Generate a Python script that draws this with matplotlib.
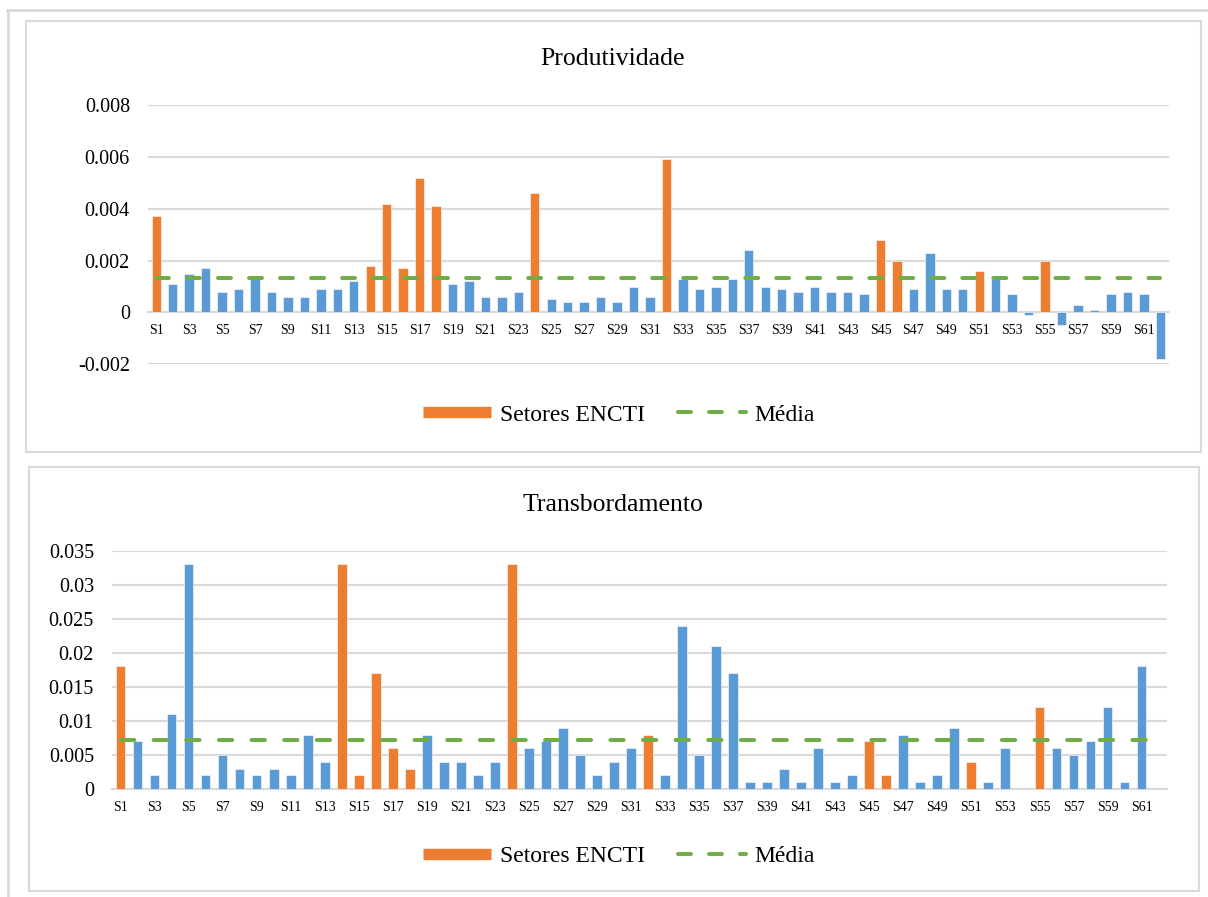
import numpy as np
import matplotlib
matplotlib.use("Agg")
import matplotlib.pyplot as plt
from matplotlib.lines import Line2D
from matplotlib.patches import Rectangle

plt.rcParams['font.family'] = ['Liberation Serif', 'DejaVu Serif']

# dados
setores = [f"S{i}" for i in range(1, 63)]
setores_encti = [1, 14, 15, 16, 17, 18, 24, 32, 45, 46, 51, 55]

produtividade = [0.0037, 0.0011, 0.0015, 0.0017, 0.0008, 0.0009, 0.0014, 0.0008, 0.0006, 0.0006,
                 0.0009, 0.0009, 0.0012, 0.0018, 0.0042, 0.0017, 0.0052, 0.0041, 0.0011, 0.0012,
                 0.0006, 0.0006, 0.0008, 0.0046, 0.0005, 0.0004, 0.0004, 0.0006, 0.0004, 0.0010,
                 0.0006, 0.0059, 0.0013, 0.0009, 0.0010, 0.0013, 0.0024, 0.0010, 0.0009, 0.0008,
                 0.0010, 0.0008, 0.0008, 0.0007, 0.0028, 0.0020, 0.0009, 0.0023, 0.0009, 0.0009,
                 0.0016, 0.0013, 0.0007, -0.0001, 0.0020, -0.0005, 0.0003, 0.0001, 0.0007, 0.0008,
                 0.0007, -0.0018]
media_prod = 0.00132

transbordamento = [0.018, 0.007, 0.002, 0.011, 0.033, 0.002, 0.005, 0.003, 0.002, 0.003,
                   0.002, 0.008, 0.004, 0.033, 0.002, 0.017, 0.006, 0.003, 0.008, 0.004,
                   0.004, 0.002, 0.004, 0.033, 0.006, 0.007, 0.009, 0.005, 0.002, 0.004,
                   0.006, 0.008, 0.002, 0.024, 0.005, 0.021, 0.017, 0.001, 0.001, 0.003,
                   0.001, 0.006, 0.001, 0.002, 0.007, 0.002, 0.008, 0.001, 0.002, 0.009,
                   0.004, 0.001, 0.006, 0.0, 0.012, 0.006, 0.005, 0.007, 0.012, 0.001,
                   0.018, 0.0]
media_transb = 0.0072

laranja = '#ED7D31'
azul = '#5B9BD5'
verde = '#70AD47'
cinza = '#D9D9D9'

W, H = 1208, 897
fig = plt.figure(figsize=(W / 100, H / 100), dpi=100)

def px(x0, y0, x1, y1):
    # converte pixels (origem em cima) para [l, b, w, h]
    return [x0 / W, 1 - y1 / H, (x1 - x0) / W, (y1 - y0) / H]

cores = [laranja if i + 1 in setores_encti else azul for i in range(len(setores))]
x = np.arange(len(setores))


def painel(ax, valores, media, ylim, yticks, ylabels, dashes):
    ax.bar(x, valores, width=0.57, color=cores, edgecolor='white', linewidth=0.4, zorder=3)
    ax.plot(x, [media] * len(x), color=verde, lw=2.9, dashes=dashes,
            dash_capstyle='round', zorder=4)
    ax.set_xlim(-0.5, len(x) - 0.5)
    ax.set_ylim(*ylim)
    ax.set_yticks(yticks)
    ax.set_yticklabels(ylabels, fontsize=14.5)
    ax.set_xticks(x[::2])
    ax.set_xticklabels(setores[::2], fontsize=11.2)
    ax.tick_params(length=0)
    ax.tick_params(axis='y', pad=13)
    ax.tick_params(axis='x', pad=8.5)
    ax.grid(axis='y', color=cinza, lw=1.5, zorder=0)
    for s in ['top', 'right', 'left']:
        ax.spines[s].set_visible(False)
    ax.spines['bottom'].set_position(('data', 0))
    ax.spines['bottom'].set_color(cinza)
    ax.spines['bottom'].set_linewidth(1.5)
    ax.set_facecolor('none')


ax1 = fig.add_axes(px(148, 105, 1168.5, 364.3))
painel(ax1, produtividade, media_prod, (-0.002, 0.008),
       [-0.002, 0, 0.002, 0.004, 0.006, 0.008],
       ['-0.002', '0', '0.002', '0.004', '0.006', '0.008'], [3.2, 4.5])

ax2 = fig.add_axes(px(112, 550.7, 1167, 789))
painel(ax2, transbordamento, media_transb, (0, 0.035),
       [0, 0.005, 0.01, 0.015, 0.02, 0.025, 0.03, 0.035],
       ['0', '0.005', '0.01', '0.015', '0.02', '0.025', '0.03', '0.035'], [3.3, 4.8])

fig.text(613 / W, 1 - 59 / H, 'Produtividade', ha='center', va='center', fontsize=18.5)
fig.text(613 / W, 1 - 505 / H, 'Transbordamento', ha='center', va='center', fontsize=18.5)

handles = [Line2D([], [], color=laranja, lw=8.2, solid_capstyle='butt'),
           Line2D([], [], color=verde, lw=2.9, dashes=[3.2, 4.5], dash_capstyle='round')]
for yc in (415, 856):
    fig.legend(handles, ['Setores ENCTI', 'Média'], loc='center', ncol=2,
               bbox_to_anchor=(619 / W, 1 - yc / H), frameon=False, fontsize=17,
               handlelength=2.9, handletextpad=0.35, columnspacing=1.4)

# molduras
fig.add_artist(Line2D([7 / W, 1], [1 - 10 / H, 1 - 10 / H], color=cinza, lw=2))
fig.add_artist(Line2D([8 / W, 8 / W], [1 - 10 / H, 0], color=cinza, lw=2))
fig.add_artist(Rectangle((26 / W, 1 - 452 / H), (1201 - 26) / W, (452 - 21) / H,
                         fill=False, edgecolor=cinza, lw=1.5))
fig.add_artist(Rectangle((29 / W, 1 - 891 / H), (1199 - 29) / W, (891 - 467) / H,
                         fill=False, edgecolor=cinza, lw=1.5))

fig.savefig('out.png', dpi=100)
